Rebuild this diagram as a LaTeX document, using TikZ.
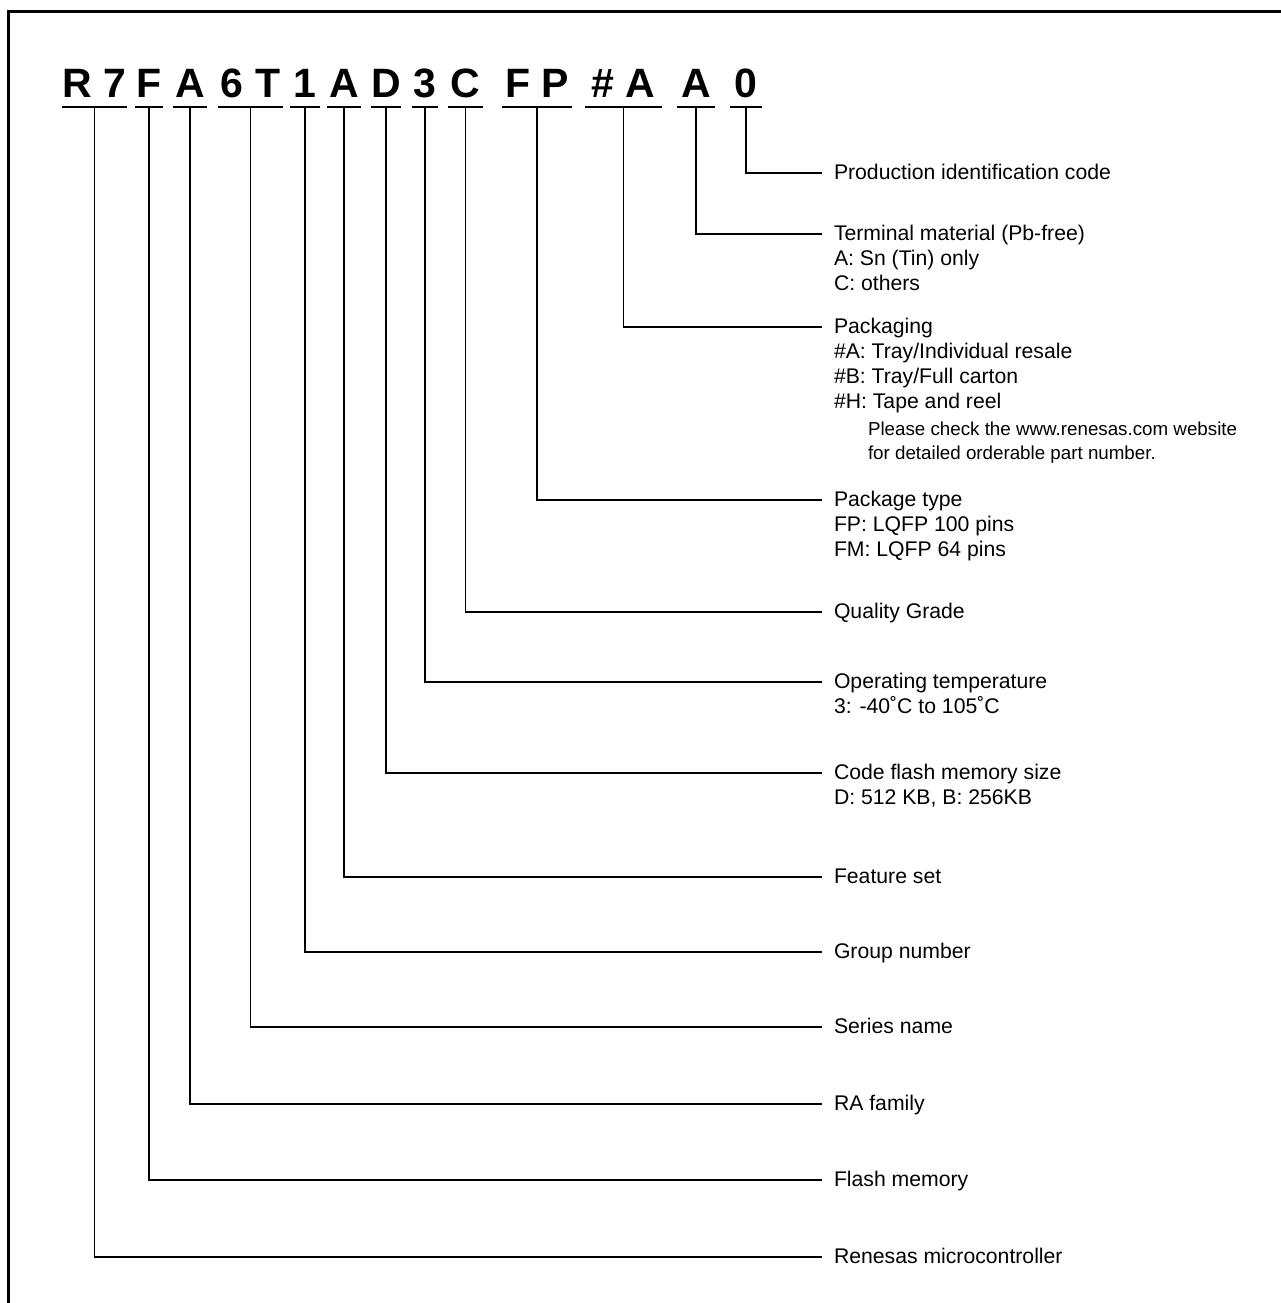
\documentclass[tikz,border=0pt]{standalone}
\usepackage{fontspec}
\setmainfont{Liberation Sans}
\usetikzlibrary{positioning}
\begin{document}
\begin{tikzpicture}[x=0.5pt,y=-0.5pt,inner sep=0pt,outer sep=0pt,
pchar/.style={font=\fontsize{20.5pt}{24pt}\selectfont\bfseries,anchor=base,inner sep=0pt,text depth=5pt},
lead/.style={line width=0.75pt},
uline/.style={line width=1pt},
lbl/.style={anchor=west,font=\fontsize{10.6pt}{12.5pt}\selectfont,inner xsep=6pt,inner ysep=0pt,text height=9pt,text depth=2.5pt},
dtl/.style={font=\fontsize{10.6pt}{12.5pt}\selectfont,inner xsep=6pt,inner ysep=0pt,align=left},
note/.style={font=\fontsize{9.38pt}{12pt}\selectfont,inner xsep=6pt,inner ysep=0pt,align=left}]

\useasboundingbox (0,0) rectangle (1281,1303);
\draw[line width=1.5pt] (8,1303) -- (8,11.5) -- (1281,11.5);

\draw (94.5,97) node[pchar,minimum width=32.5pt] (g1) {R 7};
\draw (149,97) node[pchar,minimum width=14pt] (g2) {F};
\draw (190,97) node[pchar,minimum width=17pt] (g3) {A};
\draw (250.5,97) node[pchar,minimum width=32.5pt] (g4) {6 T};
\draw (305,97) node[pchar,minimum width=15pt] (g5) {1};
\draw (344,97) node[pchar,minimum width=17pt] (g6) {A};
\draw (386,97) node[pchar,minimum width=12pt] (g7) {D};
\draw (425,97) node[pchar,minimum width=13pt] (g8) {3};
\draw (465.5,97) node[pchar,minimum width=17.5pt] (g9) {C};
\draw (537,97) node[pchar,minimum width=35pt] (g10) {F P};
\draw (623.5,97) node[pchar,minimum width=38.5pt] (g11) {\# A};
\draw (696,97) node[pchar,minimum width=19pt] (g12) {A};
\draw (746,97) node[pchar,minimum width=16pt] (g13) {0};

\draw (822,1257) node[lbl] (t1) {Renesas microcontroller};
\draw (822,1180) node[lbl] (t2) {Flash memory};
\draw (822,1104) node[lbl] (t3) {RA family};
\draw (822,1027) node[lbl] (t4) {Series name};
\draw (822,952) node[lbl] (t5) {Group number};
\draw (822,877) node[lbl] (t6) {Feature set};
\draw (822,773) node[lbl] (t7) {Code flash memory size};
\node[dtl,below right=1.25pt and 0pt of t7.south west] (d7) {\strut D: 512 KB, B: 256KB};
\draw (822,682) node[lbl] (t8) {Operating temperature};
\node[dtl,below right=1.25pt and 0pt of t8.south west] (d8) {\strut 3: -40˚C to 105˚C};
\draw (822,612) node[lbl] (t9) {Quality Grade};
\draw (822,500) node[lbl] (t10) {Package type};
\node[dtl,below right=1.25pt and 0pt of t10.south west] (d10) {\strut FP: LQFP 100 pins\\\strut FM: LQFP 64 pins};
\draw (822,327) node[lbl] (t11) {Packaging};
\node[dtl,below right=1.25pt and 0pt of t11.south west] (d11) {\strut\#A: Tray/Individual resale\\\strut\#B: Tray/Full carton\\\strut\#H: Tape and reel};
\node[note,below right=1.35pt and 17pt of d11.south west] (n11) {\strut Please check the www.renesas.com website\\\strut for detailed orderable part number.};
\draw (822,234) node[lbl] (t12) {Terminal material (Pb-free)};
\node[dtl,below right=1.25pt and 0pt of t12.south west] (d12) {\strut A: Sn (Tin) only\\\strut C: others};
\draw (822,173) node[lbl] (t13) {Production identification code};

\draw[uline] (g1.south west) -- (g1.south east);
\draw[uline] (g2.south west) -- (g2.south east);
\draw[uline] (g3.south west) -- (g3.south east);
\draw[uline] (g4.south west) -- (g4.south east);
\draw[uline] (g5.south west) -- (g5.south east);
\draw[uline] (g6.south west) -- (g6.south east);
\draw[uline] (g7.south west) -- (g7.south east);
\draw[uline] (g8.south west) -- (g8.south east);
\draw[uline] (g9.south west) -- (g9.south east);
\draw[uline] (g10.south west) -- (g10.south east);
\draw[uline] (g11.south west) -- (g11.south east);
\draw[uline] (g12.south west) -- (g12.south east);
\draw[uline] (g13.south west) -- (g13.south east);

\draw[lead] (g1.south) |- (t1.west);
\draw[lead] (g2.south) |- (t2.west);
\draw[lead] (g3.south) |- (t3.west);
\draw[lead] (g4.south) |- (t4.west);
\draw[lead] (g5.south) |- (t5.west);
\draw[lead] (g6.south) |- (t6.west);
\draw[lead] (g7.south) |- (t7.west);
\draw[lead] (g8.south) |- (t8.west);
\draw[lead] (g9.south) |- (t9.west);
\draw[lead] (g10.south) |- (t10.west);
\draw[lead] (g11.south) |- (t11.west);
\draw[lead] (g12.south) |- (t12.west);
\draw[lead] (g13.south) |- (t13.west);
\end{tikzpicture}
\end{document}
